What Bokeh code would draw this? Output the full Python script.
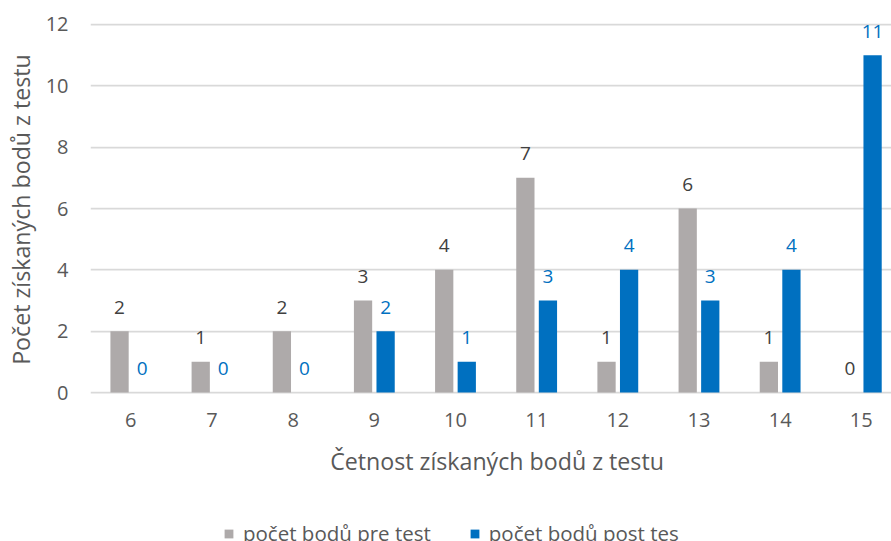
from bokeh.plotting import figure
from bokeh.layouts import column
from bokeh.models import ColumnDataSource, Range1d, FixedTicker, LabelSet, Legend, LegendItem
from bokeh.core.properties import value
from bokeh.embed import file_html
from bokeh.resources import INLINE
from bokeh.transform import dodge

categories = [6, 7, 8, 9, 10, 11, 12, 13, 14, 15]
pre_test = [2, 1, 2, 3, 4, 7, 1, 6, 1, 0]
post_test = [0, 0, 0, 2, 1, 3, 4, 3, 4, 11]
series_names = ["počet bodů pre test", "počet bodů post tes"]
y_ticks = [0, 2, 4, 6, 8, 10, 12]
x_title = "Četnost získaných bodů z testu"
y_title = "Počet získaných bodů z testu"

GREY = "#AEAAAA"
BLUE = "#0070C0"
TXT = "#595959"
FONT = "Open Sans"
NB = "\u00a0"

src = ColumnDataSource(dict(x=categories, pre=pre_test, post=post_test,
                            pre_lbl=[str(v) for v in pre_test],
                            post_lbl=[str(v) for v in post_test]))

p = figure(width=891, height=510, output_backend="svg", toolbar_location=None,
           x_range=Range1d(5.503, 15.372), y_range=Range1d(-0.065, 12.7825),
           min_border_left=90, min_border_right=0, min_border_top=0,
           min_border_bottom=116)
p.outline_line_color = None
p.background_fill_color = "white"
p.border_fill_color = "white"

off = 0.139
w = 0.225
r1 = p.vbar(x=dodge("x", -off, range=p.x_range), top="pre", width=w, source=src,
            fill_color=GREY, line_color=None)
r2 = p.vbar(x=dodge("x", off, range=p.x_range), top="post", width=w, source=src,
            fill_color=BLUE, line_color=None)

l1 = LabelSet(x=dodge("x", -off, range=p.x_range), y="pre", text="pre_lbl", source=src,
              y_offset=24, text_align="center", text_baseline="middle",
              text_font=value(FONT), text_font_size=value("19px"), text_color=value("#404040"))
l2 = LabelSet(x=dodge("x", off, range=p.x_range), y="post", text="post_lbl", source=src,
              y_offset=24, text_align="center", text_baseline="middle",
              text_font=value(FONT), text_font_size=value("19px"), text_color=value(BLUE))
p.add_layout(l1)
p.add_layout(l2)

p.xgrid.grid_line_color = None
p.ygrid.grid_line_color = "#D9D9D9"
p.ygrid.grid_line_width = 1.75

p.xaxis.ticker = FixedTicker(ticks=categories)
p.yaxis.ticker = FixedTicker(ticks=y_ticks)
for ax in (p.xaxis[0], p.yaxis[0]):
    ax.axis_line_color = None
    ax.major_tick_line_color = None
    ax.minor_tick_line_color = None
    ax.major_tick_out = 0
    ax.major_tick_in = 0
    ax.major_label_text_font = FONT
    ax.major_label_text_font_size = "20px"
    ax.major_label_text_color = TXT
    ax.axis_label_text_font = FONT
    ax.axis_label_text_font_size = "23.2px"
    ax.axis_label_text_color = TXT
    ax.axis_label_text_font_style = "normal"

p.xaxis.axis_label = NB * 2 + x_title
p.yaxis.axis_label = y_title + NB * 4
p.xaxis.major_label_standoff = 18
p.xaxis.axis_label_standoff = 15
p.yaxis.major_label_standoff = 22
p.yaxis.axis_label_standoff = 6

# legend strip (the reference cuts the legend at the bottom edge)
lg = figure(width=891, height=31, output_backend="svg", toolbar_location=None,
            x_range=Range1d(0, 891), y_range=Range1d(0, 31),
            min_border=0, min_border_left=0, min_border_right=0,
            min_border_top=0, min_border_bottom=0)
lg.axis.visible = False
lg.grid.visible = False
lg.outline_line_color = None
lg.border_fill_color = "white"
d1 = lg.vbar(x=[5000], top=[0], width=1, fill_color=GREY, line_color=None)
d2 = lg.vbar(x=[5000], top=[0], width=1, fill_color=BLUE, line_color=None)
legend = Legend(items=[LegendItem(label=series_names[0], renderers=[d1]),
                       LegendItem(label=series_names[1], renderers=[d2])],
                orientation="horizontal", location=(133, -6),
                glyph_width=11, glyph_height=11, label_standoff=9, spacing=38,
                padding=0, margin=0, border_line_color=None, background_fill_alpha=0,
                label_text_font=FONT, label_text_font_size="20.5px", label_text_color=TXT)
lg.add_layout(legend, "center")

layout = column(p, lg, spacing=0)
open("out.html", "w").write(file_html(layout, INLINE))
